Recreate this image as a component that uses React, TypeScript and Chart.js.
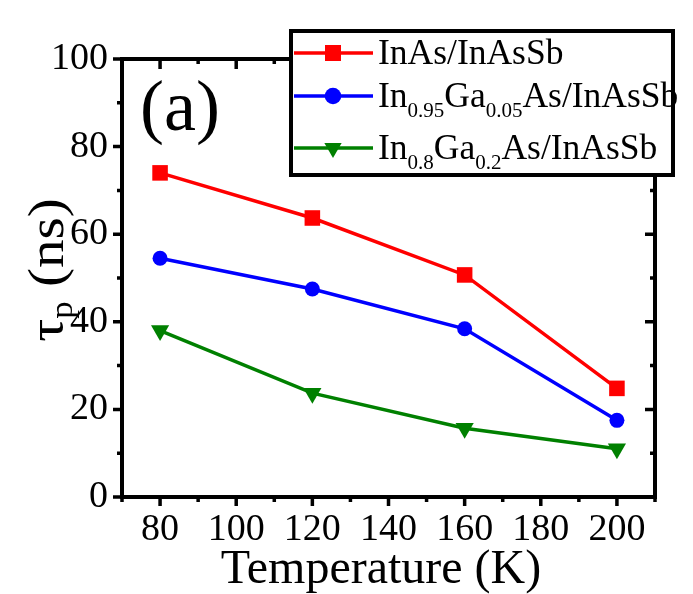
import React, { useEffect, useRef } from 'react';
import { Chart, registerables } from 'chart.js';

Chart.register(...registerables);

// ---- data ----
const temperatures = [80, 120, 160, 200];
const inAsInAsSb = [74.0, 63.7, 50.7, 24.8];
const in095Ga005 = [54.5, 47.5, 38.4, 17.5];
const in08Ga02 = [38.0, 23.7, 15.7, 11.0];

const xMajorTicks = [80, 100, 120, 140, 160, 180, 200];
const yMajorTicks = [0, 20, 40, 60, 80, 100];

const seriesLabels = ['InAs/InAsSb', 'In0.95Ga0.05As/InAsSb', 'In0.8Ga0.2As/InAsSb'];
const seriesColors = ['#ff0000', '#0000ff', '#008000'];
const seriesShapes = ['rect', 'circle', 'triangle'];

type Seg = { t: string; sub?: boolean };
const legendRich: Seg[][] = [
  [{ t: 'InAs/InAsSb' }],
  [{ t: 'In' }, { t: '0.95', sub: true }, { t: 'Ga' }, { t: '0.05', sub: true }, { t: 'As/InAsSb' }],
  [{ t: 'In' }, { t: '0.8', sub: true }, { t: 'Ga' }, { t: '0.2', sub: true }, { t: 'As/InAsSb' }],
];
const yTitleRich: Seg[] = [{ t: 'τ' }, { t: 'p', sub: true }, { t: ' (ns)' }];
const xTitle = 'Temperature (K)';
const panelLabel = '(a)';

const SERIF = '"Liberation Serif", "Times New Roman", Times, serif';

function richWidth(ctx: CanvasRenderingContext2D, segs: Seg[], size: number, subSize: number) {
  let w = 0;
  for (const s of segs) {
    ctx.font = `${s.sub ? subSize : size}px ${SERIF}`;
    w += ctx.measureText(s.t).width;
  }
  return w;
}

function drawRich(ctx: CanvasRenderingContext2D, segs: Seg[], x: number, y: number, size: number, subSize: number, subDy: number) {
  let cx = x;
  ctx.textAlign = 'left';
  ctx.textBaseline = 'alphabetic';
  for (const s of segs) {
    ctx.font = `${s.sub ? subSize : size}px ${SERIF}`;
    ctx.fillText(s.t, cx, y + (s.sub ? subDy : 0));
    cx += ctx.measureText(s.t).width;
  }
}

function drawMarker(ctx: CanvasRenderingContext2D, shape: string, x: number, y: number, color: string) {
  ctx.fillStyle = color;
  ctx.beginPath();
  if (shape === 'rect') {
    ctx.rect(x - 8, y - 8, 16, 16);
  } else if (shape === 'circle') {
    ctx.arc(x, y, 8.3, 0, Math.PI * 2);
  } else {
    const r = 10;
    ctx.moveTo(x, y + r);
    ctx.lineTo(x - r * 0.866, y - r * 0.5);
    ctx.lineTo(x + r * 0.866, y - r * 0.5);
    ctx.closePath();
  }
  ctx.fill();
}

const framePlugin = {
  id: 'frameTicks',
  beforeDatasetsDraw(chart: any) {
    const ctx: CanvasRenderingContext2D = chart.ctx;
    const { left, right, top, bottom } = chart.chartArea;
    const xs = chart.scales.x;
    const ys = chart.scales.y;
    ctx.save();
    ctx.strokeStyle = '#000';
    ctx.lineWidth = 3.5;
    ctx.lineCap = 'butt';
    for (let v = 70; v <= 210; v += 10) {
      const major = v % 20 === 0;
      const px = xs.getPixelForValue(v);
      ctx.beginPath();
      ctx.moveTo(px, bottom);
      ctx.lineTo(px, bottom + (major ? 9 : 5));
      ctx.moveTo(px, top);
      ctx.lineTo(px, top + (major ? 10 : 5));
      ctx.stroke();
    }
    for (let v = 0; v <= 100; v += 10) {
      const major = v % 20 === 0;
      const py = ys.getPixelForValue(v);
      ctx.beginPath();
      ctx.moveTo(left, py);
      ctx.lineTo(left - (major ? 9 : 5), py);
      ctx.moveTo(right, py);
      ctx.lineTo(right - (major ? 10 : 5), py);
      ctx.stroke();
    }
    ctx.lineWidth = 4;
    ctx.strokeRect(left, top, right - left, bottom - top);

    // panel label
    ctx.fillStyle = '#000';
    ctx.font = `72px ${SERIF}`;
    ctx.textAlign = 'left';
    ctx.textBaseline = 'alphabetic';
    ctx.fillText(panelLabel, 140, 130);

    // x title
    ctx.font = `48px ${SERIF}`;
    ctx.textAlign = 'center';
    ctx.fillText(xTitle, 381, 583);

    // y title (rotated)
    ctx.save();
    ctx.translate(63, 270);
    ctx.rotate(-Math.PI / 2);
    ctx.scale(1.12, 1);
    const w = richWidth(ctx, yTitleRich, 51, 31);
    ctx.fillStyle = '#000';
    drawRich(ctx, yTitleRich, -w / 2, 0, 51, 31, 9);
    ctx.restore();
    ctx.restore();
  },
  afterDraw(chart: any) {
    const ctx: CanvasRenderingContext2D = chart.ctx;
    ctx.save();
    // legend box
    ctx.fillStyle = '#fff';
    ctx.fillRect(291, 31, 382, 144);
    ctx.strokeStyle = '#000';
    ctx.lineWidth = 4;
    ctx.strokeRect(291, 31, 382, 144);
    const rows = [53, 96, 148];
    rows.forEach((ly, i) => {
      ctx.strokeStyle = seriesColors[i];
      ctx.lineWidth = 3.5;
      ctx.beginPath();
      ctx.moveTo(294, ly);
      ctx.lineTo(373, ly);
      ctx.stroke();
      drawMarker(ctx, seriesShapes[i], 333, ly, seriesColors[i]);
      ctx.fillStyle = '#000';
      drawRich(ctx, legendRich[i], 378, ly + 11, 35.5, 21, 10);
    });
    ctx.restore();
  },
};

export default function App() {
  const canvasRef = useRef<HTMLCanvasElement | null>(null);

  useEffect(() => {
    const canvas = canvasRef.current;
    if (!canvas) return;
    const seriesValues = [inAsInAsSb, in095Ga005, in08Ga02];
    const datasets = seriesValues.map((vals, i) => ({
      label: seriesLabels[i],
      data: temperatures.map((t, j) => ({ x: t, y: vals[j] })),
      borderColor: seriesColors[i],
      backgroundColor: seriesColors[i],
      borderWidth: 3.5,
      pointStyle: seriesShapes[i] as any,
      pointRadius: i === 0 ? 11 : i === 1 ? 7.5 : 10.5,
      pointRotation: i === 2 ? 180 : 0,
      pointBorderWidth: 0,
      tension: 0,
    }));

    const chart = new Chart(canvas, {
      type: 'line',
      data: { datasets },
      plugins: [framePlugin],
      options: {
        animation: false,
        responsive: false,
        maintainAspectRatio: false,
        layout: { padding: { left: 0, right: 38, top: 59, bottom: 0 } },
        plugins: {
          legend: { display: false },
          tooltip: { enabled: false },
        },
        scales: {
          x: {
            type: 'linear',
            min: 70,
            max: 210,
            afterFit: (s: any) => {
              s.height = 97;
            },
            afterBuildTicks: (s: any) => {
              s.ticks = xMajorTicks.map((v) => ({ value: v }));
            },
            ticks: {
              includeBounds: false,
              stepSize: 20,
              color: '#000',
              padding: 2,
              maxRotation: 0,
              font: { family: SERIF, size: 38 },
            },
            grid: { display: true, drawOnChartArea: false, drawTicks: true, tickLength: 8, tickColor: 'rgba(0,0,0,0)' },
            border: { display: false },
          },
          y: {
            type: 'linear',
            min: 0,
            max: 100,
            afterFit: (s: any) => {
              s.width = 122;
            },
            afterBuildTicks: (s: any) => {
              s.ticks = yMajorTicks.map((v) => ({ value: v }));
            },
            ticks: {
              includeBounds: false,
              stepSize: 20,
              color: '#000',
              padding: 6,
              font: { family: SERIF, size: 38 },
            },
            grid: { display: true, drawOnChartArea: false, drawTicks: true, tickLength: 8, tickColor: 'rgba(0,0,0,0)' },
            border: { display: false },
          },
        },
      },
    });
    return () => chart.destroy();
  }, []);

  return (
    <div style={{ position: 'absolute', left: 0, top: 0, width: 693, height: 594, background: '#fff' }}>
      <canvas ref={canvasRef} width={693} height={594} style={{ display: 'block', width: 693, height: 594 }} />
    </div>
  );
}
